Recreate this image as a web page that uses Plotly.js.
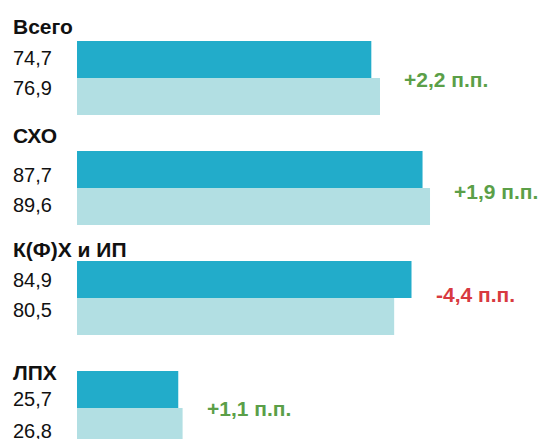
<!DOCTYPE html>
<html>
<head>
<meta charset="utf-8">
<script src="https://cdn.plot.ly/plotly-3.0.1.min.js"></script>
<style>html,body{margin:0;padding:0;background:#fff;}#chart{width:547px;height:439px;}</style>
</head>
<body>
<div id="chart"></div>
<script>
// Data
const groups = ["Всего", "СХО", "К(Ф)Х и ИП", "ЛПХ"];
const valuesPrev = [74.7, 87.7, 84.9, 25.7];
const valuesCurr = [76.9, 89.6, 80.5, 26.8];

// Layout helpers (pixel offsets relative to the group centre)
const titleOffset = [-52, -52.5, -48.5, -36];
const prevLabelOffset = [-20, -13, -18, -9];
const currLabelOffset = [10, 17, 12, 23];
const deltaOffset = [1, 3, -3.5, 0.5];

const darkColor = "#22acca";
const lightColor = "#b2dfe3";
const green = "#5b9f48";
const red = "#d83a40";
const font = "Liberation Sans, Arial, sans-serif";

const idx = groups.map((g, i) => i);
const fmt = v => v.toFixed(1).replace(".", ",");

const traces = [
  {type: "bar", orientation: "h", y: idx, x: valuesPrev, marker: {color: darkColor}, hoverinfo: "none"},
  {type: "bar", orientation: "h", y: idx, x: valuesCurr, marker: {color: lightColor}, hoverinfo: "none"}
];

const ann = [];
groups.forEach((g, i) => {
  ann.push({xref: "x", yref: "y", x: 0, y: i, xshift: -66, yshift: -titleOffset[i], xanchor: "left", yanchor: "middle",
    text: "<b>" + g + "</b>", showarrow: false, font: {family: font, size: 21, color: "#111"}});
  ann.push({xref: "x", yref: "y", x: 0, y: i, xshift: -66, yshift: -prevLabelOffset[i], xanchor: "left", yanchor: "middle",
    text: fmt(valuesPrev[i]), showarrow: false, font: {family: font, size: 20, color: "#111"}});
  ann.push({xref: "x", yref: "y", x: 0, y: i, xshift: -66, yshift: -currLabelOffset[i], xanchor: "left", yanchor: "middle",
    text: fmt(valuesCurr[i]), showarrow: false, font: {family: font, size: 20, color: "#111"}});
  const d = Math.round((valuesCurr[i] - valuesPrev[i]) * 10) / 10;
  const dtxt = (d > 0 ? "+" : "") + fmt(d) + " п.п.";
  ann.push({xref: "x", yref: "y", x: Math.max(valuesPrev[i], valuesCurr[i]), y: i, xshift: 22, yshift: -deltaOffset[i],
    xanchor: "left", yanchor: "middle", text: "<b>" + dtxt + "</b>", showarrow: false,
    font: {family: font, size: 21, color: d >= 0 ? green : red}});
});

const layout = {
  width: 547, height: 439,
  margin: {l: 77, r: 0, t: 0, b: 0, pad: 0},
  paper_bgcolor: "#fff", plot_bgcolor: "#fff",
  showlegend: false,
  barmode: "group", bargap: 0.327, bargroupgap: 0,
  xaxis: {range: [0, 470 / 3.94], visible: false, fixedrange: true},
  yaxis: {type: "linear", range: [(439 - 78) / 110, -78 / 110], visible: false, fixedrange: true},
  annotations: ann
};

Plotly.newPlot("chart", traces, layout, {displayModeBar: false, staticPlot: true});
</script>
</body>
</html>
